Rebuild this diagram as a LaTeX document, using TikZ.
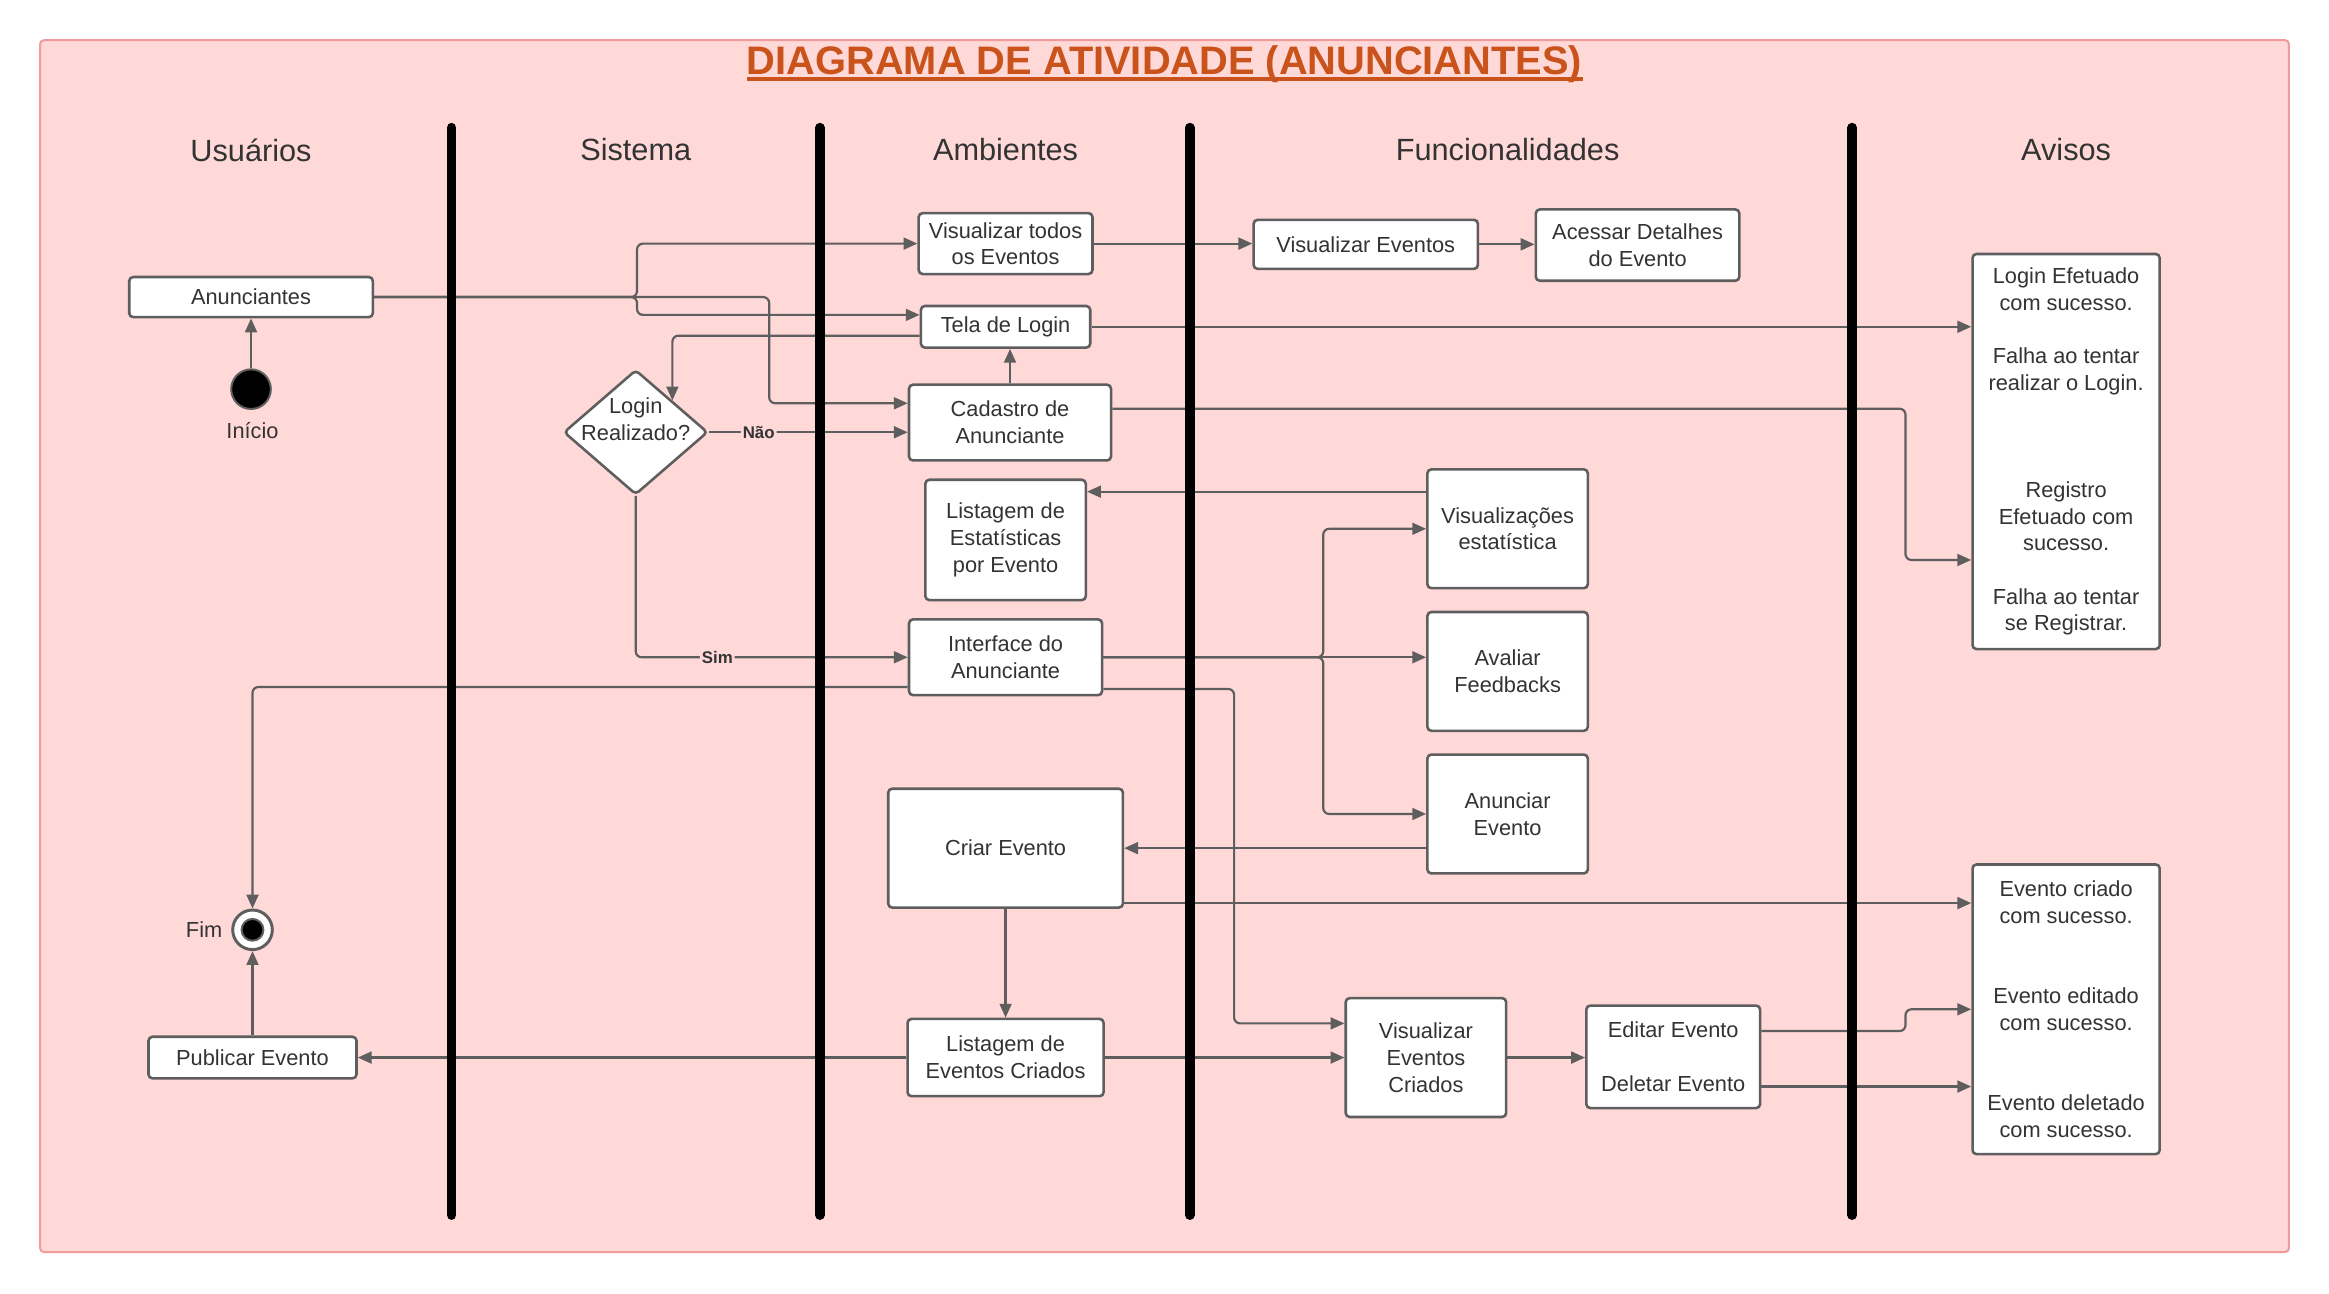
\documentclass[tikz,border=0pt]{standalone}
\usepackage{fontspec}
\setmainfont{Liberation Sans}
\usepackage{xcolor}
\usetikzlibrary{shapes.geometric,positioning}
\usetikzlibrary{arrows.meta}

\definecolor{fundo}{HTML}{FFD8D8}
\definecolor{borda}{HTML}{F09A9A}
\definecolor{titulo}{HTML}{C9531A}
\definecolor{linha}{HTML}{5E5E5E}
\definecolor{texto}{HTML}{333333}

\begin{document}
\begin{tikzpicture}[x=0.75pt, y=-0.75pt,
  every node/.style={font=\fontsize{11}{13.5}\selectfont, text=texto},
  box/.style={draw=linha, fill=white, rectangle, rounded corners=2pt, line width=1.3pt, align=center, inner sep=2pt},
  flow/.style={draw=linha, line width=1.1pt, rounded corners=3pt, -{Triangle[length=7pt, width=6pt]}},
  lane/.style={line width=5pt, line cap=round, black},
  header/.style={font=\fontsize{15.5}{18}\selectfont},
  lbl/.style={font=\bfseries\fontsize{8.5}{10}\selectfont, fill=fundo, inner sep=1pt}]

\useasboundingbox (0,0) rectangle (1568,871);
\draw[fill=fundo, draw=borda, line width=1pt, rounded corners=2pt] (27,27) rectangle (1541,843);

% titulo
\node[font=\bfseries\fontsize{20.1}{23}\selectfont, text=titulo, inner sep=0pt] (titulo) at (784,43) {DIAGRAMA DE ATIVIDADE (ANUNCIANTES)};
\draw[titulo, line width=2pt] ([yshift=-2.5pt]titulo.base west) -- ([yshift=-2.5pt]titulo.base east);

% raias
\node[header] (hUsuarios) at (169,101) {Usuários};
\node[header] (hSistema) at (428,101) {Sistema};
\node[header] (hAmbientes) at (677,101) {Ambientes};
\node[header] (hFuncionalidades) at (1015,101) {Funcionalidades};
\node[header] (hAvisos) at (1391,101) {Avisos};

% Usuarios
\node[box, minimum width=123pt, minimum height=20.25pt] (anunciantes) at (169,200) {Anunciantes};
\node[circle, fill=black, draw=linha, line width=1pt, minimum size=20pt, inner sep=0pt] (inicio) at (169,262) {};
\node (inicioLbl) at (170,290) {Início};
\node[circle, fill=white, draw=linha, line width=1.5pt, minimum size=20pt, inner sep=0pt] (fim) at (170,626) {};
\node[circle, fill=black, draw=linha, line width=1pt, minimum size=11pt, inner sep=0pt] (fimDot) at (fim) {};
\node[left=1pt of fim] (fimLbl) {Fim};
\node[box, minimum width=105pt, minimum height=21pt] (publicar) at (170,712) {Publicar Evento};

% Sistema
\node[diamond, draw=linha, fill=white, line width=1.3pt, rounded corners=2pt, minimum width=72.75pt, minimum height=63pt, inner sep=0pt] (login) at (428,291) {};
\node[align=center] (loginTxt) at (428,282) {Login\\Realizado?};

% Ambientes
\node[box, minimum width=87.75pt, minimum height=30.75pt] (vertodos) at (677,164) {Visualizar todos\\os Eventos};
\node[box, minimum width=85.5pt, minimum height=21pt] (telalogin) at (677,220) {Tela de Login};
\node[box, minimum width=102pt, minimum height=38.25pt] (cadastro) at (680,284.5) {Cadastro de\\Anunciante};
\node[box, minimum width=81pt, minimum height=60.75pt] (listestat) at (677,363.5) {Listagem de\\Estatísticas\\por Evento};
\node[box, minimum width=97.5pt, minimum height=38.25pt] (interface) at (677,442.5) {Interface do\\Anunciante};
\node[box, minimum width=118.5pt, minimum height=60pt] (criar) at (677,571) {Criar Evento};
\node[box, minimum width=99pt, minimum height=39pt] (listcriados) at (677,712) {Listagem de\\Eventos Criados};

% Funcionalidades
\node[box, minimum width=113.25pt, minimum height=24.75pt] (vereventos) at (919.5,164.5) {Visualizar Eventos};
\node[box, minimum width=102.75pt, minimum height=36pt] (detalhes) at (1102.5,165) {Acessar Detalhes\\do Evento};
\node[box, minimum width=81pt, minimum height=60pt] (visestat) at (1015,356) {Visualizações\\estatística};
\node[box, minimum width=81pt, minimum height=60pt] (feedbacks) at (1015,452) {Avaliar\\Feedbacks};
\node[box, minimum width=81pt, minimum height=60pt] (anunciar) at (1015,548) {Anunciar\\Evento};
\node[box, minimum width=81pt, minimum height=60pt] (vercriados) at (960,712) {Visualizar\\Eventos\\Criados};
\node[box, minimum width=87.75pt, minimum height=51.75pt] (editar) at (1126.5,711.5) {Editar Evento\\[13.5pt]Deletar Evento};

% Avisos
\node[box, minimum width=94.5pt, minimum height=199.5pt] (avisoconta) at (1391,304) {Login Efetuado\\com sucesso.\\[13.5pt]Falha ao tentar\\realizar o Login.\\[40.5pt]Registro\\Efetuado com\\sucesso.\\[13.5pt]Falha ao tentar\\se Registrar.};
\node[box, minimum width=94.5pt, minimum height=146.25pt] (avisoevento) at (1391,679.5) {Evento criado\\com sucesso.\\[27pt]Evento editado\\com sucesso.\\[27pt]Evento deletado\\com sucesso.};

% fluxos
\draw[flow] (inicio) -- (anunciantes);
\draw[flow] (anunciantes.east) -- ++(177,0) |- (vertodos.west);
\draw[flow] (anunciantes.east) -- ++(177,0) |- ([yshift=6pt]telalogin.west);
\draw[flow] (anunciantes.east) -- ++(266,0) |- ([yshift=9.75pt]cadastro.west);
\draw[flow] ([yshift=-4.5pt]telalogin.west) -| (login.north east);
\draw[flow] (cadastro.north) -- (cadastro.north |- telalogin.south);
\draw[flow] (login.east) -- node[lbl, pos=0.25] {Não} (login.east -| cadastro.west);
\draw[flow] (login.south) |- node[lbl, pos=0.65] {Sim} (interface.west);
\draw[flow] (vertodos.east) -- (vertodos.east -| vereventos.west);
\draw[flow] (vereventos.east) -- (vereventos.east -| detalhes.west);
\draw[flow] (telalogin.east) -- (telalogin.east -| avisoconta.west);
\draw[flow] ([yshift=7pt]cadastro.east) -- ++(534,0) |- ([yshift=-54.75pt]avisoconta.west);
\draw[flow] ([yshift=18.75pt]visestat.west) -- ([yshift=18.75pt]visestat.west -| listestat.east);
\draw[flow] (interface.east) -- ++(148,0) |- (visestat.west);
\draw[flow] (interface.east) -- (interface.east -| feedbacks.west);
\draw[flow] (interface.east) -- ++(148,0) |- (anunciar.west);
\draw[flow] ([yshift=-16pt]interface.east) -- ++(88,0) |- ([yshift=17.25pt]vercriados.west);
\draw[flow] ([yshift=-15pt]interface.west) -| (fim.north);
\draw[flow] ([yshift=-17.25pt]anunciar.west) -- ([yshift=-17.25pt]anunciar.west -| criar.east);
\draw[flow] ([yshift=-27.75pt]criar.east) -- ([yshift=-27.75pt]criar.east -| avisoevento.west);
\draw[flow] (criar.south) -- (listcriados.north);
\draw[flow] (listcriados.west) -- (publicar.east);
\draw[flow] (listcriados.east) -- (vercriados.west);
\draw[flow] (publicar.north) -- (fim.south);
\draw[flow] (vercriados.east) -- (vercriados.east -| editar.west);
\draw[flow] ([yshift=13pt]editar.east) -- ++(97,0) |- (avisoevento.west);
\draw[flow] ([yshift=-15pt]editar.east) -- ([yshift=-15pt]editar.east -| avisoevento.west);

% separadores
\foreach \x in {304,552,801,1247}
  \draw[lane] (\x,86) -- (\x,818);

\end{tikzpicture}
\end{document}
